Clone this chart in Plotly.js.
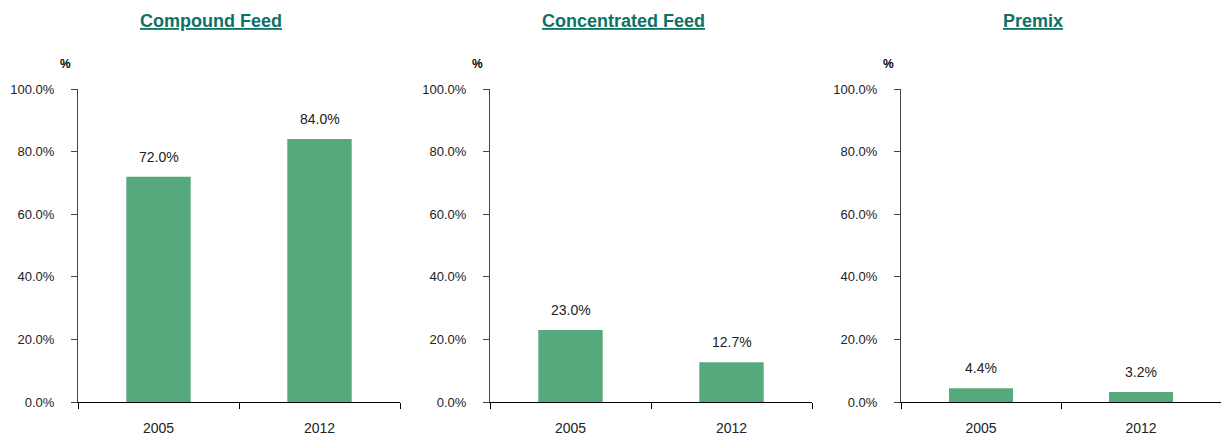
<!DOCTYPE html>
<html><head><meta charset="utf-8">
<script src="https://cdn.plot.ly/plotly-3.0.1.min.js"></script>
<style>html,body{margin:0;padding:0;background:#fff;}#chart{width:1222px;height:437px;}</style>
</head><body><div id="chart"></div>
<script>
const years = ["2005", "2012"];
const panelTitles = ["Compound Feed", "Concentrated Feed", "Premix"];
const compoundFeed = [72.0, 84.0];
const concentratedFeed = [23.0, 12.7];
const premix = [4.4, 3.2];
const yTickVals = [0, 20, 40, 60, 80, 100];
const yTickText = ["0.0%", "20.0%", "40.0%", "60.0%", "80.0%", "100.0%"];

const series = [compoundFeed, concentratedFeed, premix];
const W = 1222;
const axisLeft = [78, 490, 901];
const axisRight = [400, 812, 1221];
const barColor = "#56A97D";
const fontFam = "Liberation Sans, Arial, sans-serif";

const data = [];
const annotations = [];
const layout = {
  width: 1222, height: 437,
  margin: {l: 0, r: 0, t: 89, b: 35},
  paper_bgcolor: "#fff", plot_bgcolor: "#fff",
  showlegend: false,
  bargap: 0.6,
  font: {family: fontFam, size: 13, color: "#222"},
  annotations: annotations
};

series.forEach((vals, i) => {
  const s = i === 0 ? "" : String(i + 1);
  data.push({
    type: "bar", x: years, y: vals,
    xaxis: "x" + s, yaxis: "y" + s,
    marker: {color: barColor},
    hoverinfo: "skip"
  });
  layout["xaxis" + s] = {
    domain: [axisLeft[i] / W, axisRight[i] / W],
    anchor: "y" + s,
    type: "category",
    range: [-0.5, years.length - 0.5],
    showline: true, linecolor: "#000", linewidth: 1,
    ticks: "outside", ticklen: 6, tickcolor: "#000",
    tickson: "boundaries",
    showgrid: false, zeroline: false,
    ticklabelstandoff: 13,
    tickfont: {family: fontFam, size: 14, color: "#222"},
    fixedrange: true
  };
  layout["yaxis" + s] = {
    anchor: "x" + s,
    range: [0, 100],
    tickvals: yTickVals, ticktext: yTickText,
    showline: true, linecolor: "#444", linewidth: 1,
    ticks: "outside", ticklen: 6, tickcolor: "#444",
    showgrid: false, zeroline: false,
    ticklabelstandoff: 14,
    tickfont: {family: fontFam, size: 13, color: "#222"},
    fixedrange: true
  };
  const center = (axisLeft[i] + axisRight[i]) / 2 - 28;
  annotations.push({
    xref: "paper", yref: "paper",
    x: center / W, y: 1, yshift: 68,
    xanchor: "center", yanchor: "middle",
    text: "<b><u>" + panelTitles[i] + "</u></b>",
    showarrow: false,
    font: {family: fontFam, size: 18, color: "#0E7163"}
  });
  annotations.push({
    xref: "paper", yref: "paper",
    x: (axisLeft[i] - 13) / W, y: 1, yshift: 25,
    xanchor: "center", yanchor: "middle",
    text: "<b>%</b>",
    showarrow: false,
    font: {family: fontFam, size: 12, color: "#000"}
  });
  vals.forEach((v, j) => {
    annotations.push({
      xref: "x" + s, yref: "y" + s,
      x: j, y: v, yshift: 20,
      xanchor: "center", yanchor: "middle",
      text: v.toFixed(1) + "%",
      showarrow: false,
      font: {family: fontFam, size: 14, color: "#222"}
    });
  });
});

Plotly.newPlot("chart", data, layout, {displayModeBar: false, staticPlot: true});
</script></body></html>
